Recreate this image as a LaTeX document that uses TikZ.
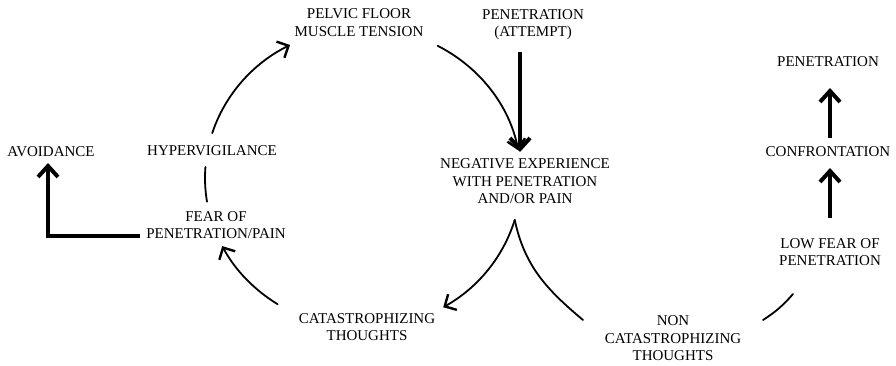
\documentclass[tikz,border=0pt]{standalone}
\usepackage{fontspec}
\setmainfont{Liberation Serif}
\usetikzlibrary{arrows.meta}
\begin{document}
\begin{tikzpicture}[x=1pt,y=1pt,
  lbl/.style={inner sep=0pt, align=center, font=\fontsize{15}{17.5}\selectfont},
  thin/.style={line width=1.8pt, line cap=round},
  thinarr/.style={thin, -{Straight Barb[length=9pt, width=18pt, line width=2.4pt]}},
  thick/.style={line width=4pt},
  thickarr/.style={thick, -{Straight Barb[length=11pt, width=20pt, line width=4pt]}},
  ell/.style={x radius=158, y radius=150}]
\useasboundingbox (0,0) rectangle (896,365);
% nodes
\node[lbl] (pelvic) at (359,341) {PELVIC FLOOR\strut\\MUSCLE TENSION\strut};
\node[lbl] (attempt) at (533,340.5) {PENETRATION\strut\\(ATTEMPT)\strut};
\node[lbl] (neg) at (525,182.5) {NEGATIVE EXPERIENCE\strut\\WITH PENETRATION\strut\\AND/OR PAIN\strut};
\node[lbl] (avoid) at (51,212.5) {AVOIDANCE\strut};
\node[lbl] (hyper) at (212,213.5) {HYPERVIGILANCE\strut};
\node[lbl] (fear) at (216,138.5) {FEAR OF\strut\\PENETRATION/PAIN\strut};
\node[lbl] (cat) at (367,36.5) {CATASTROPHIZING\strut\\THOUGHTS\strut};
\node[lbl] (noncat) at (673,25.5) {NON\strut\\CATASTROPHIZING\strut\\THOUGHTS\strut};
\node[lbl] (lowfear) at (830,111.5) {LOW FEAR OF\strut\\PENETRATION\strut};
\node[lbl] (confr) at (828,212.5) {CONFRONTATION\strut};
\node[lbl] (pen) at (828,301.5) {PENETRATION\strut};
% cycle ellipse centre
\coordinate (C) at (363,187);
\path (C) ++(162.6:158 and 150) coordinate (hyperS);
\path (C) ++(61.8:158 and 150) coordinate (pelvicS);
\path (C) ++(-16.2:158 and 150) coordinate (negS);
\path (C) ++(-122.7:158 and 150) coordinate (catS);
\path (C) ++(189.1:158 and 150) coordinate (fearS);
% cycle arcs
\draw[thinarr] (hyperS) arc[ell, start angle=162.6, end angle=117.5];
\draw[thinarr] (pelvicS) arc[ell, start angle=61.8, end angle=10.6];
\draw[thinarr] (negS) arc[ell, start angle=-16.2, end angle=-59.5];
\draw[thinarr] (catS) arc[ell, start angle=-122.7, end angle=-153];
\draw[thin] (fearS) arc[ell, start angle=189.1, end angle=175.8];
% branch to non catastrophizing
\coordinate (noncatS) at (583,45);
\draw[thin] (negS) to[out=-78, in=140] (noncatS);
\coordinate (noncatE) at (763,45);
\coordinate (lowfearS) at (793,71);
\draw[thin] (noncatE) to[bend right=8] (lowfearS);
% thick arrows
\coordinate (attS) at (520,313);
\coordinate (attE) at (520,213);
\draw[thickarr] (attS) -- (attE);
\coordinate (lfS) at (830,147);
\coordinate (lfE) at (830,197);
\draw[thickarr] (lfS) -- (lfE);
\coordinate (cfS) at (830,227);
\coordinate (cfE) at (830,277);
\draw[thickarr] (cfS) -- (cfE);
\coordinate (fearW) at (140,129);
\coordinate (avoidS) at (48,202);
\draw[thickarr] (fearW) -| (avoidS);
\end{tikzpicture}
\end{document}
